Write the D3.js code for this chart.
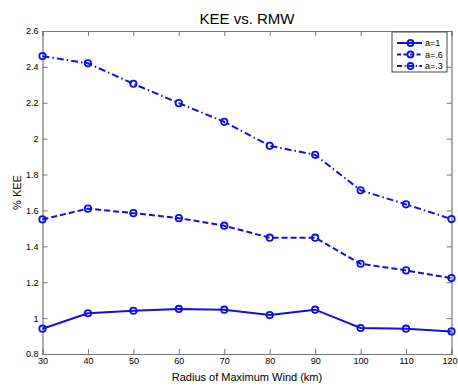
<!DOCTYPE html>
<html>
<head>
<meta charset="utf-8">
<script src="https://cdn.jsdelivr.net/npm/d3@7"></script>
<style>
  body { margin: 0; background: #fff; }
  svg { font-family: "Liberation Sans", Arial, sans-serif; }
  .tick text { font-size: 9px; fill: #000; }
</style>
</head>
<body>
<svg id="chart" width="458" height="387"></svg>
<script>
var radius = [30, 40, 50, 60, 70, 80, 90, 100, 110, 120];
var keeA1 = [0.941, 1.027, 1.041, 1.051, 1.047, 1.017, 1.047, 0.945, 0.941, 0.926];
var keeA6 = [1.550, 1.610, 1.585, 1.557, 1.515, 1.448, 1.448, 1.303, 1.266, 1.223];
var keeA3 = [2.460, 2.420, 2.306, 2.198, 2.094, 1.960, 1.910, 1.712, 1.634, 1.552];
var seriesNames = ["a=1", "a=.6", "a=.3"];
var xTicks = [30, 40, 50, 60, 70, 80, 90, 100, 110, 120];
var yTicks = [0.8, 1, 1.2, 1.4, 1.6, 1.8, 2, 2.2, 2.4, 2.6];

var svg = d3.select("#chart");
var plotLeft = 42.5, plotRight = 451.5, plotTop = 31, plotBottom = 354;

var x = d3.scaleLinear().domain([30, 120]).range([plotLeft, plotRight]);
var y = d3.scaleLinear().domain([0.8, 2.6]).range([plotBottom, plotTop]);

var blue = "#1010e0";
var axisColor = "#777";
var dashes = [null, "6,3", "7,3,1.5,3"];
var series = [keeA1, keeA6, keeA3];

// frame + axes, ticks pointing inward like matlab
var xAxis = svg.append("g").attr("transform", "translate(0," + plotBottom + ")")
  .call(d3.axisBottom(x).tickValues(xTicks).tickSize(-5).tickPadding(4).tickFormat(d3.format("d")));
var xAxisTop = svg.append("g").attr("transform", "translate(0," + plotTop + ")")
  .call(d3.axisTop(x).tickValues(xTicks).tickSize(-5).tickFormat(""));
var yAxis = svg.append("g").attr("transform", "translate(" + plotLeft + ",0)")
  .call(d3.axisLeft(y).tickValues(yTicks).tickSize(-5).tickPadding(4).tickFormat(function(d) { return String(+d.toFixed(1)); }));
var yAxisRight = svg.append("g").attr("transform", "translate(" + plotRight + ",0)")
  .call(d3.axisRight(y).tickValues(yTicks).tickSize(-5).tickFormat(""));

[xAxis, xAxisTop, yAxis, yAxisRight].forEach(function(g) {
  g.selectAll("path.domain").attr("stroke", axisColor).attr("stroke-width", 1.2);
  g.selectAll(".tick line").attr("stroke", axisColor);
});
// last x label sits against the right edge
xAxis.selectAll(".tick text").filter(function(d) { return d == 120; }).attr("text-anchor", "end").attr("dx", "0.6em");

var line = d3.line()
  .x(function(d, i) { return x(radius[i]); })
  .y(function(d) { return y(d); });

series.forEach(function(vals, k) {
  svg.append("path")
    .datum(vals)
    .attr("d", line)
    .attr("fill", "none")
    .attr("stroke", blue)
    .attr("stroke-width", 2)
    .attr("stroke-dasharray", dashes[k]);

  svg.selectAll(".pt" + k)
    .data(vals)
    .enter()
    .append("circle")
    .attr("class", "pt" + k)
    .attr("cx", function(d, i) { return x(radius[i]); })
    .attr("cy", function(d) { return y(d); })
    .attr("r", 3.2)
    .attr("fill", "none")
    .attr("stroke", blue)
    .attr("stroke-width", 1.8);
});

// legend
var legend = svg.append("g").attr("transform", "translate(392,32)");
legend.append("rect")
  .attr("width", 55).attr("height", 40)
  .attr("fill", "#fff").attr("stroke", "#444").attr("stroke-width", 1);
seriesNames.forEach(function(name, k) {
  var ly = 11 + k * 11.5;
  legend.append("line")
    .attr("x1", 5).attr("x2", 30).attr("y1", ly).attr("y2", ly)
    .attr("stroke", blue).attr("stroke-width", 2)
    .attr("stroke-dasharray", dashes[k] ? (k == 1 ? "4,2.5" : "5,2.5,1.2,2.5") : null);
  legend.append("circle")
    .attr("cx", 18.5).attr("cy", ly).attr("r", 3)
    .attr("fill", "none").attr("stroke", blue).attr("stroke-width", 1.8);
  legend.append("text")
    .attr("x", 33).attr("y", ly).attr("dy", "0.35em")
    .attr("font-size", 9).text(name);
});

// title and axis labels
svg.append("text")
  .attr("x", (plotLeft + plotRight) / 2).attr("y", 24)
  .attr("text-anchor", "middle").attr("font-size", 15)
  .text("KEE vs. RMW");
svg.append("text")
  .attr("x", (plotLeft + plotRight) / 2).attr("y", 381)
  .attr("text-anchor", "middle").attr("font-size", 11)
  .text("Radius of Maximum Wind (km)");
svg.append("text")
  .attr("transform", "translate(21," + ((plotTop + plotBottom) / 2) + ") rotate(-90)")
  .attr("text-anchor", "middle").attr("font-size", 11)
  .text("% KEE");
</script>
</body>
</html>
